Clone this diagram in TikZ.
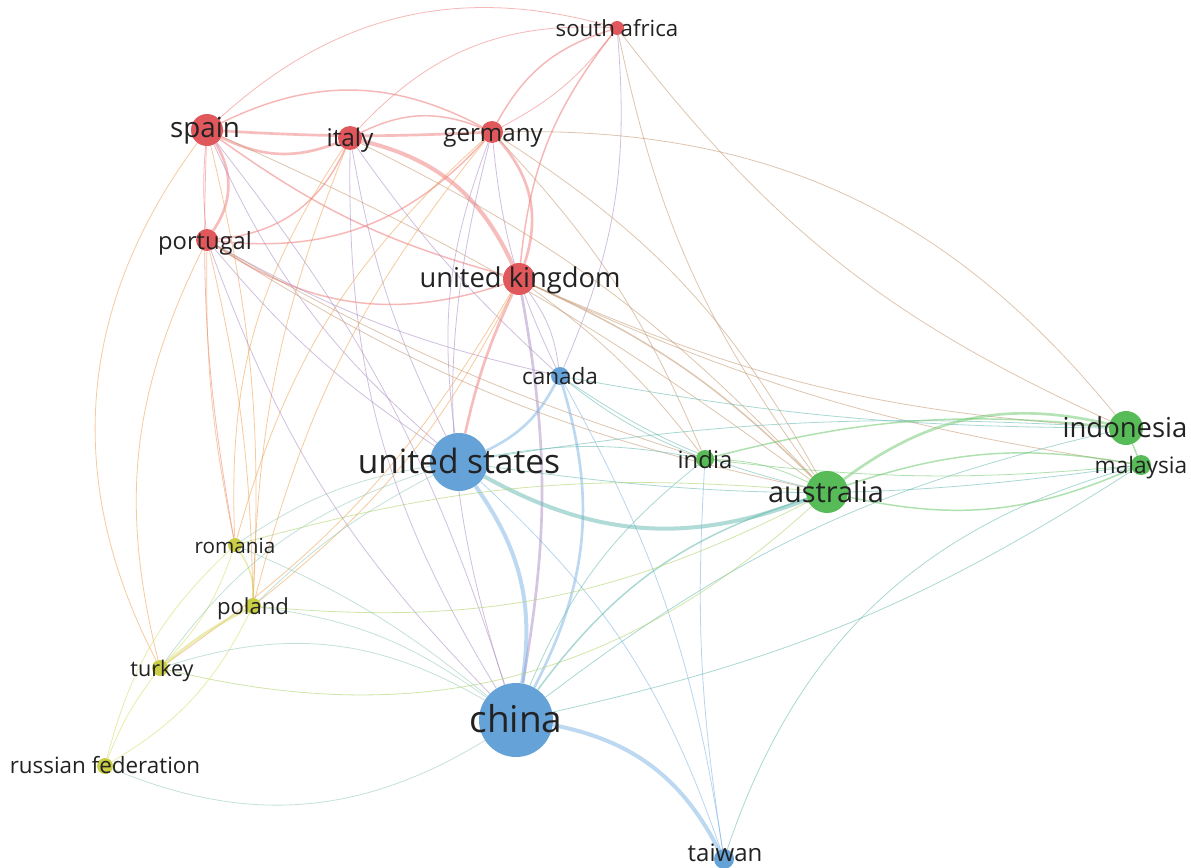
\documentclass[tikz,border=0pt]{standalone}
\usepackage{fontspec}
\setmainfont{Open Sans}
\definecolor{nred}{RGB}{224,80,84}
\definecolor{nblue}{RGB}{92,158,214}
\definecolor{ngreen}{RGB}{78,184,78}
\definecolor{nyellow}{RGB}{200,204,60}
\definecolor{crr}{RGB}{240,125,125}
\definecolor{cbb}{RGB}{125,180,230}
\definecolor{cgg}{RGB}{110,200,110}
\definecolor{cyy}{RGB}{215,220,100}
\definecolor{crb}{RGB}{170,140,195}
\definecolor{crg}{RGB}{195,150,110}
\definecolor{cry}{RGB}{238,160,80}
\definecolor{cby}{RGB}{150,200,185}
\definecolor{cbg}{RGB}{100,185,175}
\definecolor{cgy}{RGB}{170,210,100}
\definecolor{txt}{RGB}{34,34,34}
\pgfdeclarelayer{bg}
\pgfdeclarelayer{edges}
\pgfsetlayers{bg,edges,main}
\begin{document}
\begin{tikzpicture}[x=0.75pt,y=-0.75pt,
  vnode/.style={circle,inner sep=0pt,minimum size=#1*1.5pt,draw=none,opacity=0.95},
  lab/.style={anchor=mid,inner sep=0pt,text=txt,yshift=-0.23*#1 pt,font=\fontsize{#1}{#1}\selectfont},
  lthin/.style={line width=0.6pt,opacity=0.55},
  lmed/.style={line width=1.1pt,opacity=0.55},
  lthick/.style={line width=2pt,opacity=0.5},
  lheavy/.style={line width=3pt,opacity=0.5}]
\begin{pgfonlayer}{bg}
\fill[white] (0,0) rectangle (1191,867);
\end{pgfonlayer}
\useasboundingbox (0,0) rectangle (1191,867);
% nodes
\node[vnode=7,fill=nred] (sa) at (617,28) {};
\node[vnode=16,fill=nred] (es) at (207,130) {};
\node[vnode=12,fill=nred] (it) at (350,138) {};
\node[vnode=11,fill=nred] (de) at (492,132) {};
\node[vnode=11,fill=nred] (pt) at (207,240) {};
\node[vnode=16,fill=nred] (uk) at (519,279) {};
\node[vnode=9,fill=nblue] (ca) at (560,376) {};
\node[vnode=29,fill=nblue] (us) at (459,462) {};
\node[vnode=9,fill=ngreen] (in) at (705,459) {};
\node[vnode=21,fill=ngreen] (au) at (827,492) {};
\node[vnode=17,fill=ngreen] (id) at (1126,428) {};
\node[vnode=10,fill=ngreen] (my) at (1141,465) {};
\node[vnode=7,fill=nyellow] (ro) at (235,545) {};
\node[vnode=8,fill=nyellow] (pl) at (253,606) {};
\node[vnode=8,fill=nyellow] (tr) at (160,668) {};
\node[vnode=37,fill=nblue] (cn) at (516,720) {};
\node[vnode=8,fill=nyellow] (ru) at (105,766) {};
\node[vnode=10,fill=nblue] (tw) at (724,859) {};
% labels
\node[lab=16.7] (lsa) at (617,28) {south africa};
\node[lab=20.8] (les) at (205,128) {spain};
\node[lab=18.3] (lit) at (350,137) {italy};
\node[lab=18.1] (lde) at (493,132) {germany};
\node[lab=17.8] (lpt) at (205,240) {portugal};
\node[lab=20.5] (luk) at (520,278) {united kingdom};
\node[lab=16.9] (lca) at (560,376) {canada};
\node[lab=25.1] (lus) at (459,462) {united states};
\node[lab=17.9] (lin) at (705,459) {india};
\node[lab=21.7] (lau) at (826,492) {australia};
\node[lab=20.6] (lid) at (1125,428) {indonesia};
\node[lab=17.0] (lmy) at (1141,465) {malaysia};
\node[lab=15.5] (lro) at (235,545) {romania};
\node[lab=16.6] (lpl) at (253,606) {poland};
\node[lab=16.2] (ltr) at (162,668) {turkey};
\node[lab=27.7] (lcn) at (516,720) {china};
\node[lab=16.8] (lru) at (105,765) {russian federation};
\node[lab=18.0] (ltw) at (725,852) {taiwan};
\begin{pgfonlayer}{edges}
% red cluster
\draw[lthin,crr] (es) to[bend left=29] (sa);
\draw[lmed,crr] (es) to[bend left=27] (de);
\draw[lthick,crr] (es) to[bend right=3] (de);
\draw[lthick,crr] (es) to[bend right=24] (it);
\draw[lthick,crr] (es) to[bend left=33] (pt);
\draw[lthin,crr] (es) to[bend right=5] (pt);
\draw[lmed,crr] (es) to[bend right=10] (uk);
\draw[lthin,crb] (es) to[bend right=12] (us);
\draw[lthin,crb] (es) to[bend left=10] (cn);
\draw[lthin,cry] (es) to[bend right=32] (tr);
\draw[lthin,crr] (es) to[bend right=6] (ro);
\draw[lthin,cry] (es) to[bend left=8] (pl);
\draw[lthin,crg] (es) to[bend left=6] (au);
\draw[lmed,crr] (it) to[bend left=24] (de);
\draw[lmed,crr] (it) to[bend left=30] (pt);
\draw[lheavy,crr] (it) to[bend left=26] (uk);
\draw[lthin,crr] (it) to[bend left=25] (sa);
\draw[lthin,crb] (it) to[bend right=8] (us);
\draw[lthin,crb] (it) to[bend right=16] (cn);
\draw[lthin,crb] (it) to[bend right=6] (ca);
\draw[lthin,crg] (it) to[bend left=10] (au);
\draw[lthin,cry] (it) to[bend right=18] (ro);
\draw[lthin,cry] (it) to[bend right=10] (pl);
\draw[lthick,crr] (de) to[bend left=30] (uk);
\draw[lmed,crr] (de) to[bend left=27] (pt);
\draw[lmed,crr] (de) to[bend left=22] (sa);
\draw[lthin,crr] (de) to[bend right=12] (sa);
\draw[lthin,crb] (de) to[bend right=14] (us);
\draw[lthin,crb] (de) to[bend right=16] (cn);
\draw[lthin,crb] (de) to[bend right=10] (ca);
\draw[lthin,crg] (de) to[bend left=26] (id);
\draw[lthin,crg] (de) to[bend left=14] (au);
\draw[lthin,crg] (de) to[bend left=10] (in);
\draw[lthin,cry] (de) to[bend right=12] (pl);
\draw[lthin,cry] (de) to[bend right=16] (ro);
\draw[lmed,crr] (sa) to[bend right=16] (uk);
\draw[lthin,crb] (sa) to[bend left=14] (ca);
\draw[lthin,crg] (sa) to[bend right=12] (au);
\draw[lthin,crg] (sa) to[bend right=14] (id);
\draw[lmed,crr] (pt) to[bend right=26] (uk);
\draw[lthin,crb] (pt) to[bend right=8] (us);
\draw[lthin,crb] (pt) to[bend right=8] (ca);
\draw[lthin,crb] (pt) to[bend right=12] (cn);
\draw[lthin,crg] (pt) to[bend right=10] (au);
\draw[lthin,crg] (pt) to[bend right=6] (in);
\draw[lthin,cry] (pt) to[bend right=20] (tr);
\draw[lthin,cry] (pt) to[bend right=6] (ro);
\draw[lthin,cry] (pt) to[bend left=6] (pl);
\draw[lthick,crr] (uk) to[bend right=6] (us);
\draw[lthick,crb] (uk) to[bend left=10] (cn);
\draw[lthin,crb] (uk) to[bend left=14] (ca);
\draw[lmed,crg] (uk) to[bend left=10] (au);
\draw[lthin,crg] (uk) to[bend left=8] (in);
\draw[lthin,crg] (uk) to[bend right=10] (id);
\draw[lthin,crg] (uk) to[bend right=8] (my);
\draw[lthin,cry] (uk) to[bend left=12] (tr);
\draw[lthin,cry] (uk) to[bend left=12] (pl);
% blue cluster
\draw[lheavy,cbb] (us) to[bend left=22] (cn);
\draw[lthick,cbb] (us) to[bend right=18] (ca);
\draw[lthick,cbb] (ca) to[bend left=22] (cn);
\draw[lheavy,cbb] (cn) to[bend left=26] (tw);
\draw[lthin,cbb] (us) to[bend left=14] (tw);
\draw[lthin,cbb] (ca) to[bend left=10] (tw);
\draw[lthin,cbb] (in) to[bend right=6] (tw);
\draw[lthin,cbg] (tw) to[bend left=28] (my);
\draw[lthin,cbg] (us) to[bend left=10] (in);
\draw[lheavy,cbg] (us) to[bend right=25] (au);
\draw[lthin,cbg] (us) to[bend left=6] (id);
\draw[lthin,cbg] (us) to[bend right=8] (my);
\draw[lmed,cbg] (cn) to[bend left=18] (au);
\draw[lthin,cbg] (cn) to[bend left=14] (in);
\draw[lthin,cbg] (cn) to[bend left=12] (id);
\draw[lthin,cbg] (cn) to[bend right=10] (my);
\draw[lthin,cbg] (ca) to[bend right=8] (in);
\draw[lthin,cbg] (ca) to[bend right=10] (au);
\draw[lthin,cbg] (ca) to[bend right=5] (id);
% yellow cluster
\draw[lthick,cyy] (tr) to[bend left=6] (pl);
\draw[lthin,cyy] (tr) to[bend right=12] (ro);
\draw[lmed,cyy] (ro) to[bend left=18] (pl);
\draw[lthin,cyy] (tr) to[bend right=8] (ru);
\draw[lthin,cyy] (ro) to[bend right=16] (ru);
\draw[lthin,cyy] (pl) to[bend left=16] (ru);
\draw[lthin,cby] (tr) to[bend left=18] (us);
\draw[lthin,cby] (tr) to[bend left=24] (cn);
\draw[lthin,cgy] (tr) to[bend right=28] (au);
\draw[lthin,cgy] (pl) to[bend right=16] (au);
\draw[lthin,cby] (pl) to[bend left=14] (cn);
\draw[lthin,cby] (ro) to[bend left=8] (cn);
\draw[lthin,cby] (ro) to[bend left=12] (us);
\draw[lthin,cby] (pl) to[bend left=8] (us);
\draw[lthin,cby] (ru) to[bend right=27] (cn);
\draw[lthin,cgy] (ro) to[bend left=10] (au);
% green cluster
\draw[lthick,cgg] (au) to[bend left=25] (id);
\draw[lmed,cgg] (au) to[bend left=14] (my);
\draw[lmed,cgg] (au) to[bend right=18] (my);
\draw[lmed,cgg] (in) to[bend left=10] (id);
\draw[lthin,cgg] (in) to[bend right=6] (my);
\draw[lthin,cgg] (in) to[bend left=12] (au);
\draw[lmed,cgg] (id) to (my);
\end{pgfonlayer}
\end{tikzpicture}
\end{document}
